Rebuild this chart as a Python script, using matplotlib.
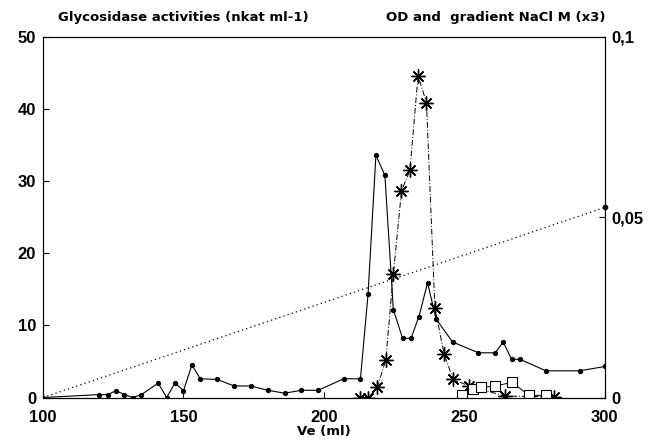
import matplotlib
matplotlib.use("Agg")
import matplotlib.pyplot as plt

plt.rcParams['font.family'] = ['Liberation Sans', 'DejaVu Sans']
plt.rcParams['font.weight'] = 'bold'

# glycosidase activity 1 (small dots, solid line)
ve_a = [100, 120, 123, 126, 129, 132, 135, 141, 144, 147, 150, 153, 156, 162,
        168, 174, 180, 186, 192, 198, 207, 213, 215.7, 218.5, 221.7, 224.7,
        228, 231, 233.8, 236.9, 239.9, 245.8, 255, 261, 263.8, 266.8, 269.8,
        279, 291, 300]
act_a = [0, 0.4, 0.4, 0.95, 0.4, 0, 0.4, 2.0, 0, 2.0, 0.95, 4.5, 2.6, 2.5,
         1.6, 1.6, 1.0, 0.6, 1.0, 1.0, 2.6, 2.6, 14.3, 33.6, 30.8, 12.2,
         8.2, 8.2, 11.2, 15.9, 10.9, 7.7, 6.2, 6.2, 7.7, 5.3, 5.3,
         3.7, 3.7, 4.3]

# glycosidase activity 2 (stars)
ve_b = [212.8, 215.8, 219, 222, 224.7, 227.6, 230.6, 233.5, 236.5, 239.5,
        242.8, 246, 251.7, 264.4, 281.8]
act_b = [0, 0, 1.4, 5.2, 17.1, 28.6, 31.5, 44.6, 40.9, 12.4,
         6.0, 2.5, 1.6, 0.2, 0.1]

# glycosidase activity 3 (open squares)
ve_c = [249, 253, 256, 261, 267, 273, 279]
act_c = [0.4, 1.2, 1.4, 1.6, 2.1, 0.3, 0.3]

# NaCl gradient (right axis, dotted)
ve_grad = [100, 300]
nacl = [0, 0.0527]

fig = plt.figure(figsize=(6.48, 4.48), dpi=100)
ax = fig.add_axes([0.0664, 0.1127, 0.867, 0.805])

ax.plot(ve_a, act_a, color='black', lw=0.8, marker='o', ms=2.8)
ax.plot(ve_b, act_b, color='black', lw=0.7, ls=(0, (6, 2, 1, 2)),
        marker=(8, 2, 0), ms=10, mew=1.0)
ax.plot(ve_c, act_c, color='black', lw=0.7, ls='-', marker='s', ms=7,
        mfc='white', mec='black', mew=0.8)

ax.set_xlim(100, 300)
ax.set_ylim(0, 50)
ax.set_xticks([100, 150, 200, 250, 300])
ax.set_yticks([0, 10, 20, 30, 40, 50])
ax.tick_params(direction='in', length=4, width=0.8, labelsize=12, pad=5)
ax.tick_params(axis='x', pad=9)
for lab in ax.get_xticklabels() + ax.get_yticklabels():
    lab.set_fontweight('bold')
for sp in ax.spines.values():
    sp.set_linewidth(0.8)

ax2 = ax.twinx()
ax2.plot(ve_grad, nacl, color='black', lw=0.9, ls=(0, (1, 2.5)))
ax2.plot(ve_grad[-1:], nacl[-1:], 'o', color='black', ms=3, clip_on=False)
ax2.set_ylim(0, 0.1)
ax2.set_yticks([0, 0.05, 0.1])
ax2.set_yticklabels(['0', '0,05', '0,1'])
ax2.tick_params(direction='in', length=4, width=0.8, labelsize=12, pad=5)
for lab in ax2.get_yticklabels():
    lab.set_fontweight('bold')

fig.text(0.09, 0.96, 'Glycosidase activities (nkat ml-1)', fontsize=9.5,
         fontweight='bold', family='DejaVu Sans', ha='left', va='center')
fig.text(0.935, 0.96, 'OD and  gradient NaCl M (x3)', fontsize=9.5,
         fontweight='bold', family='DejaVu Sans', ha='right', va='center')
ax.set_xlabel('Ve (ml)', fontsize=9.5, fontweight='bold',
              family='DejaVu Sans', labelpad=0)

fig.savefig('out.png', dpi=100)
